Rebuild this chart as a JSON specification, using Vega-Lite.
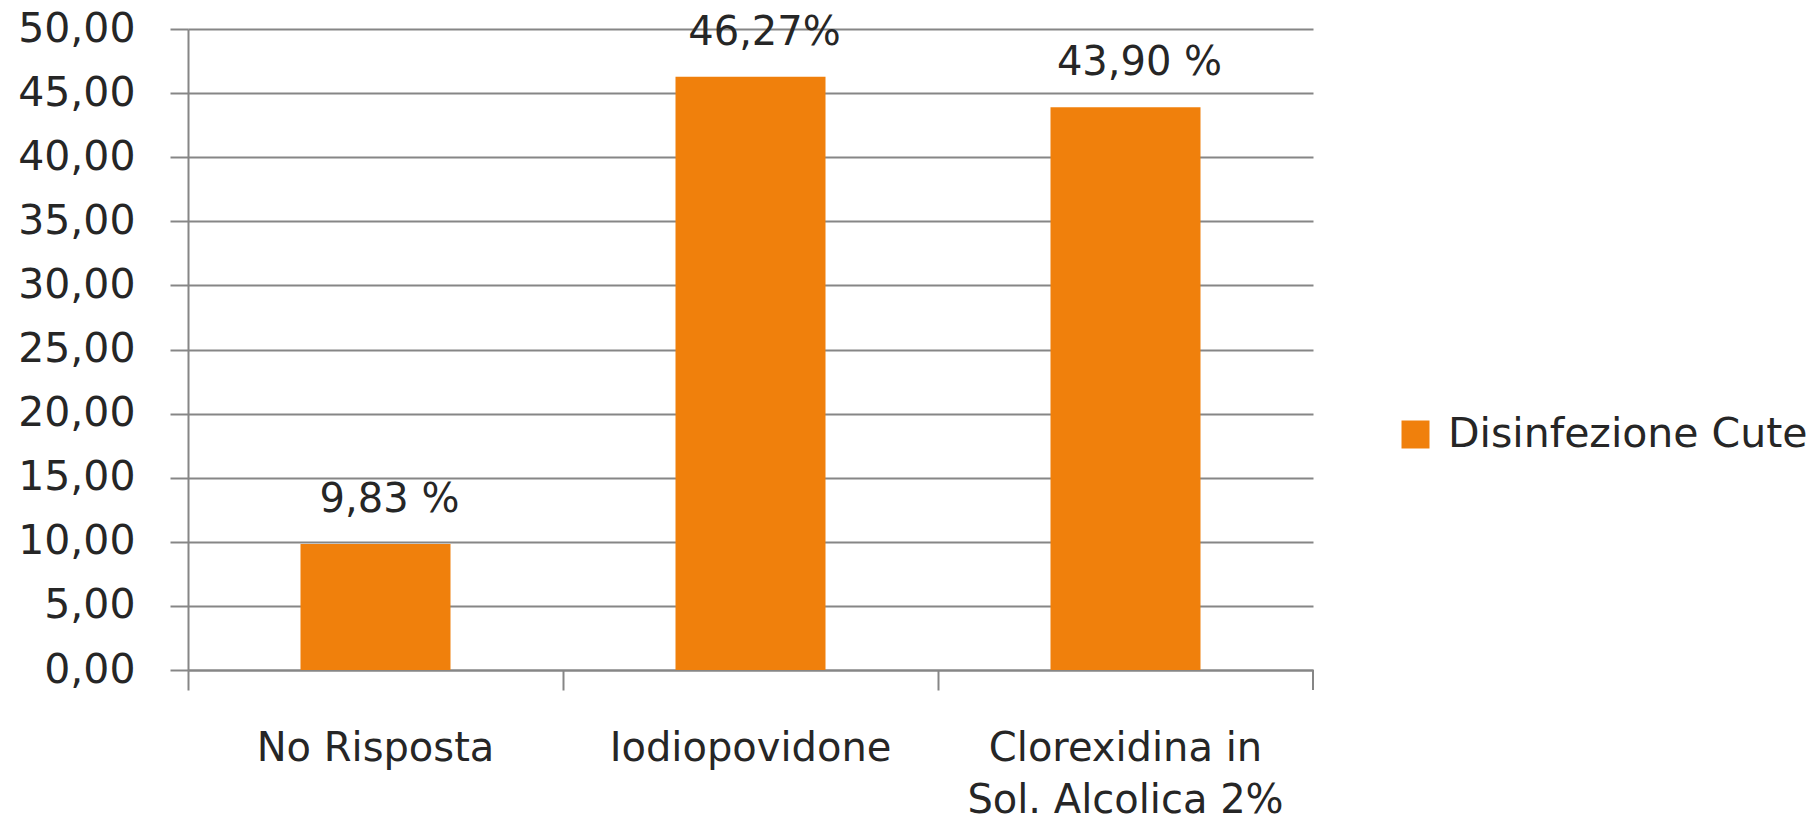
{
  "$schema": "https://vega.github.io/schema/vega-lite/v6.json",
  "autosize": {"type": "none"},
  "width": 1125,
  "height": 641,
  "padding": {"left": 188, "top": 29, "right": 499, "bottom": 155},
  "background": "white",
  "config": {
    "font": "DejaVu Sans",
    "view": {"stroke": null}
  },
  "data": {
    "values": [
      {"categoria": "No Risposta", "valore": 9.83, "etichetta": "9,83 %", "serie": "Disinfezione Cute"},
      {"categoria": "Iodiopovidone", "valore": 46.27, "etichetta": "46,27%", "serie": "Disinfezione Cute"},
      {"categoria": "Clorexidina in Sol. Alcolica 2%", "valore": 43.9, "etichetta": "43,90 %", "serie": "Disinfezione Cute"}
    ]
  },
  "encoding": {
    "x": {
      "field": "categoria",
      "type": "nominal",
      "sort": null,
      "scale": {"paddingInner": 0.6, "paddingOuter": 0.3},
      "axis": {
        "title": null,
        "bandPosition": -0.75,
        "labelAngle": 0,
        "labelFontSize": 40,
        "labelColor": "#262626",
        "labelBaseline": "top",
        "labelPadding": 38,
        "labelLineHeight": 52,
        "labelLimit": 0,
        "labelExpr": "datum.value == 'Clorexidina in Sol. Alcolica 2%' ? ['Clorexidina in', 'Sol. Alcolica 2%'] : datum.value",
        "domainColor": "#868686",
        "domainWidth": 2,
        "tickColor": "#868686",
        "tickWidth": 2,
        "tickSize": 20,
        "grid": false
      }
    }
  },
  "layer": [
    {
      "mark": {"type": "bar", "color": "#F0800C"},
      "encoding": {
        "y": {
          "field": "valore",
          "type": "quantitative",
          "scale": {"domain": [0, 50], "nice": false},
          "axis": {
            "title": null,
            "values": [0, 5, 10, 15, 20, 25, 30, 35, 40, 45, 50],
            "labelExpr": "replace(format(datum.value, '.2f'), '.', ',')",
            "labelFontSize": 41,
            "labelColor": "#262626",
            "labelPadding": 35,
            "labelLimit": 0,
            "grid": true,
            "gridColor": "#868686",
            "gridWidth": 2,
            "domainColor": "#868686",
            "domainWidth": 2,
            "tickColor": "#868686",
            "tickWidth": 2,
            "tickSize": 18
          }
        },
        "color": {
          "field": "serie",
          "type": "nominal",
          "scale": {"range": ["#F0800C"]},
          "legend": {
            "title": null,
            "orient": "none",
            "legendX": 1207,
            "legendY": 385,
            "symbolType": "square",
            "symbolSize": 784,
            "symbolStrokeWidth": 0,
            "labelFontSize": 41,
            "labelColor": "#262626",
            "labelOffset": 12,
            "labelLimit": 0
          }
        }
      }
    },
    {
      "mark": {"type": "text", "fontSize": 40, "color": "#262626", "baseline": "middle", "dy": -44, "dx": 14},
      "encoding": {
        "y": {"field": "valore", "type": "quantitative"},
        "text": {"field": "etichetta"}
      }
    },
    {
      "transform": [{"filter": "datum.categoria == 'Clorexidina in Sol. Alcolica 2%'"}],
      "mark": {"type": "rule", "color": "#868686", "strokeWidth": 2, "y2Offset": 20},
      "encoding": {
        "x": {"field": "categoria", "type": "nominal", "bandPosition": 1.75},
        "y": {"datum": 0},
        "y2": {"datum": 0}
      }
    }
  ]
}
